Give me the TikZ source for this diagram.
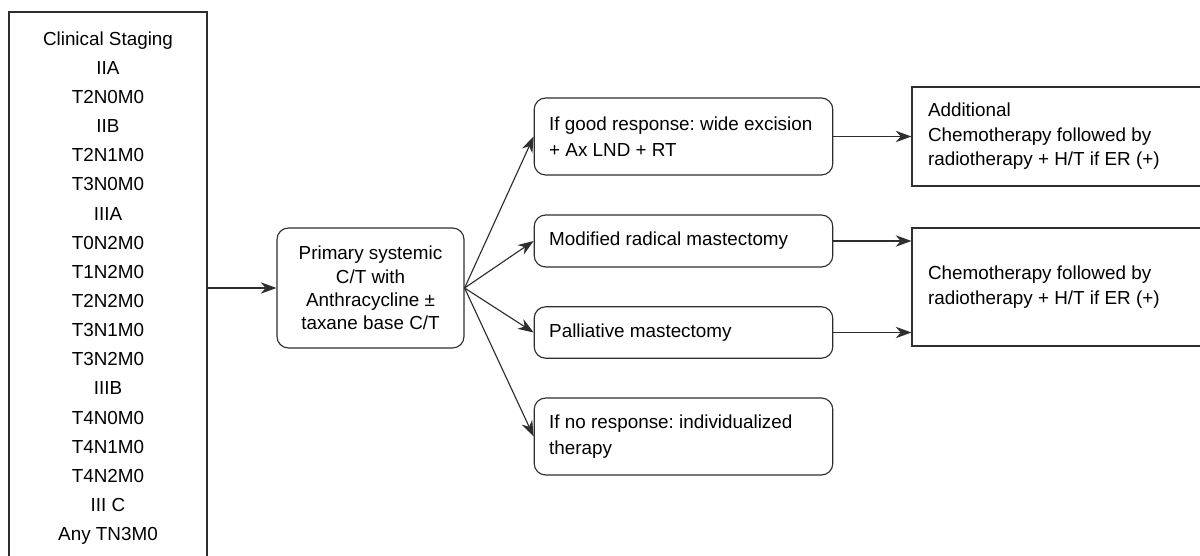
\documentclass[tikz,border=0pt]{standalone}
\usepackage{fontspec}
\setmainfont{Liberation Sans}
\usetikzlibrary{arrows.meta}
\definecolor{linegray}{HTML}{2E2E2E}
\frenchspacing
\tikzstyle{stagebox} = [draw=linegray, line width=0.8pt, rectangle,
    minimum width=138.6pt, minimum height=386.4pt, align=center,
    font=\fontsize{13.2}{20.4}\selectfont]
\tikzstyle{treatbox} = [draw=linegray, line width=0.8pt, rectangle, rounded corners=8pt,
    minimum width=130.9pt, minimum height=84pt, align=center,
    font=\fontsize{13.2}{16.3}\selectfont]
\tikzstyle{branchbox} = [draw=linegray, line width=0.8pt, rectangle, rounded corners=8pt,
    text width=188pt, inner xsep=10.5pt, align=flush left,
    font=\fontsize{13.2}{18.2}\selectfont]
\tikzstyle{resultbox} = [draw=linegray, line width=0.8pt, rectangle,
    text width=187.6pt, inner xsep=11.2pt, align=flush left,
    font=\fontsize{13.2}{17.2}\selectfont]
\tikzstyle{arr} = [draw=linegray, line width=0.8pt, -{Stealth[length=11pt,width=8pt,inset=3.5pt]}]

\begin{document}
\begin{tikzpicture}[x=0.7pt, y=-0.7pt]
    \useasboundingbox (0,0) rectangle (1200,556);
    \clip (0,0) rectangle (1200,556);
    % staging list (runs off the bottom)
    \node [stagebox] (staging) at (108,288) {Clinical Staging\\IIA\\T2N0M0\\IIB\\T2N1M0\\T3N0M0\\IIIA\\T0N2M0\\T1N2M0\\T2N2M0\\T3N1M0\\T3N2M0\\IIIB\\T4N0M0\\T4N1M0\\T4N2M0\\III C\\Any TN3M0};
    \node [treatbox] (treat) at (370.5,288) {Primary systemic\\C/T with\\Anthracycline ±\\taxane base C/T};
    \node [branchbox, minimum height=53.9pt] (good) at (683.5,136.5) {If good response: wide excision\\+ Ax LND + RT};
    \node [branchbox, minimum height=36.4pt] (mrm) at (683.5,241) {Modified radical mastectomy};
    \node [branchbox, minimum height=36pt] (pall) at (683.5,332.5) {Palliative mastectomy};
    \node [branchbox, minimum height=53.9pt] (nores) at (683.5,436.5) {If no response: individualized\\therapy};
    % result boxes (run off the right side)
    \node [resultbox, minimum height=69.3pt] (addchemo) at (1062,136.5) {Additional\\Chemotherapy followed by\\radiotherapy + H/T if ER (+)};
    \node [resultbox, minimum height=82.6pt] (chemo) at (1062,287) {Chemotherapy followed by\\radiotherapy + H/T if ER (+)};

    \draw [arr] (staging.east) -- (treat.west);
    \draw [arr] (treat.east) -- (good.west);
    \draw [arr] (treat.east) -- (mrm.west);
    \draw [arr] (treat.east) -- (pall.west);
    \draw [arr] (treat.east) -- (nores.west);
    \draw [arr] (good.east) -- (addchemo.west);
    \draw [arr] (mrm.east) -- (mrm.east -| chemo.west);
    \draw [arr] (pall.east) -- (pall.east -| chemo.west);
\end{tikzpicture}
\end{document}
